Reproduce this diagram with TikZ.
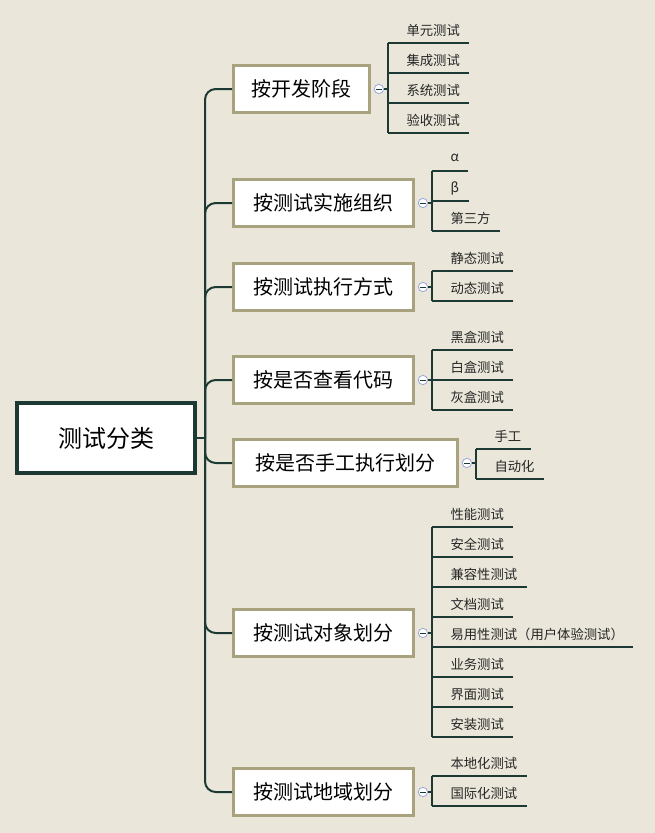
\documentclass[tikz,border=0pt]{standalone}
\usepackage{fontspec}
\setmainfont{Noto Sans CJK SC}
\definecolor{bg}{HTML}{EAE7DA}
\definecolor{ln}{HTML}{1C3A33}
\definecolor{tan}{HTML}{A8A27E}
\definecolor{cb}{HTML}{9AA8D8}
\tikzset{
 rootbox/.style={draw=ln,line width=3pt,fill=white,minimum width=134pt,minimum height=53pt,font=\fontsize{18}{20}\selectfont},
 mainbox/.style={draw=tan,line width=2.2pt,fill=white,anchor=west,minimum height=35pt,inner xsep=12pt,font=\fontsize{15}{17}\selectfont},
 leaf/.style={anchor=west,inner xsep=0pt,font=\fontsize{10}{12}\selectfont,text=black!85},
 conn/.style={draw=ln,line width=1.5pt},
 colc/.style={circle,draw=cb,fill=white,line width=0.6pt,inner sep=0pt,minimum size=7pt}
}
\begin{document}
\begin{tikzpicture}[x=0.75pt,y=-0.75pt]
\fill[bg] (0,0) rectangle (655,833);
\useasboundingbox (0,0) rectangle (655,833);
\node[rootbox] (root) at (106,438) {测试分类};
\draw[conn] (root.east) -- (205,438);
\foreach \n/\y/\w/\t in {b1/89/102/按开发阶段,b2/203/135/按测试实施组织,b3/287/135/按测试执行方式,b4/380/135/按是否查看代码,b5/463/168/按是否手工执行划分,b6/633/135/按测试对象划分,b7/792/135/按测试地域划分}{
  \node[mainbox,minimum width=\w pt] (\n) at (232,\y) {\t};
  \draw[conn,rounded corners=8pt] (205,438) |- (\n.west);
  \node[colc] (\n c) at ([xshift=6pt]\n.east) {};
  \draw[ln,line width=0.6pt] (\n c.center) ++(-2.2pt,0) -- ++(4.4pt,0);
}
\foreach \n/\lst/\ya/\yb in {
 b1/{30/单元测试,60/集成测试,90/系统测试,120/验收测试}/30/120,
 b2/{158/α,188/β,218/第三方}/158/218,
 b3/{258/静态测试,288/动态测试}/258/288,
 b4/{337/黑盒测试,367/白盒测试,397/灰盒测试}/337/397,
 b5/{436/手工,466/自动化}/436/466,
 b6/{514/性能测试,544/安全测试,574/兼容性测试,604/文档测试,634/易用性测试（用户体验测试）,664/业务测试,694/界面测试,724/安装测试}/514/724,
 b7/{763/本地化测试,793/国际化测试}/763/793}{
  \coordinate (vx) at ([xshift=12.5pt]\n.east);
  \draw[conn] (\n c.east) -- (vx |- \n c);
  \draw[conn] ([yshift=-9.75pt]vx |- 0,\ya) -- ([yshift=-9.75pt]vx |- 0,\yb);
  \foreach \ly/\lt in \lst {
    \node[leaf] (lf) at ([xshift=14pt]vx |- 0,\ly) {\lt};
    \draw[conn] ([yshift=-9.75pt]vx |- 0,\ly) -- ([yshift=-9.75pt,xshift=7pt]lf.east |- 0,\ly);
  }
}
\end{tikzpicture}
\end{document}
